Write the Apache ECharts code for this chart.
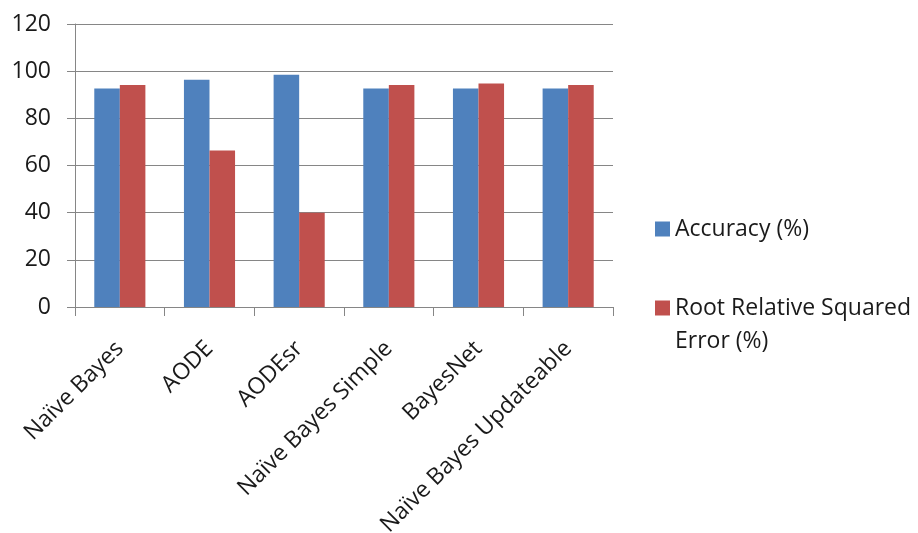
<!DOCTYPE html>
<html><head><meta charset="utf-8">
<script src="https://cdn.jsdelivr.net/npm/echarts@6/dist/echarts.min.js"></script>
<style>html,body{margin:0;padding:0;background:#fff}#c{width:918px;height:533px}</style>
</head><body><div id="c"></div>
<script>
const categories = ['Naïve Bayes','AODE','AODEsr','Naïve Bayes Simple','BayesNet','Naïve Bayes Updateable'];
const accuracy = [92.6, 96.4, 98.5, 92.6, 92.6, 92.6];
const rrse = [94.1, 66.4, 40.0, 94.1, 94.8, 94.1];
const seriesNames = ['Accuracy (%)', 'Root Relative Squared Error (%)'];
const yTicks = { min: 0, max: 120, interval: 20 };

const FONT = 'Open Sans';
const FS = 23;
const chart = echarts.init(document.getElementById('c'), null, {renderer:'canvas'});
chart.setOption({
  animation: false,
  textStyle: { fontFamily: FONT },
  grid: { left: 75, right: 305, top: 24, bottom: 226, containLabel: false, outerBoundsMode: 'none' },
  legend: [
    { data: [seriesNames[0]], orient: 'vertical', left: 655, top: 212.5, padding: 0,
      itemWidth: 15, itemHeight: 15, itemGap: 5, icon: 'rect',
      textStyle: { fontFamily: FONT, fontSize: FS, color: '#1a1a1a', lineHeight: 33 } },
    { data: [seriesNames[1]], orient: 'vertical', left: 655, top: 258.5, padding: 0,
      itemWidth: 15, itemHeight: 15, itemGap: 5, icon: 'rect',
      formatter: () => ' \nRoot Relative Squared\nError (%)',
      textStyle: { fontFamily: FONT, fontSize: FS, color: '#1a1a1a', lineHeight: 33 } }
  ],
  xAxis: {
    type: 'category', data: categories,
    axisLine: { lineStyle: { color: '#868686', width: 1 } },
    axisTick: { show: true, length: 9, alignWithLabel: false, lineStyle: { color: '#868686' } },
    axisLabel: { rotate: 45, fontFamily: FONT, fontSize: FS, color: '#1a1a1a', margin: 38, interval: 0 }
  },
  yAxis: {
    type: 'value', min: yTicks.min, max: yTicks.max, interval: yTicks.interval,
    axisLine: { show: true, lineStyle: { color: '#868686' } },
    axisTick: { show: true, length: 8, lineStyle: { color: '#868686' } },
    axisLabel: { fontFamily: FONT, fontSize: FS, color: '#1a1a1a', margin: 24 },
    splitLine: { lineStyle: { color: '#868686', width: 1 } }
  },
  series: [
    { name: seriesNames[0], type: 'bar', data: accuracy, barGap: '0%', barCategoryGap: '43%',
      itemStyle: { color: '#4F81BD' } },
    { name: seriesNames[1], type: 'bar', data: rrse, barGap: '0%', barCategoryGap: '43%',
      itemStyle: { color: '#C0504D' } }
  ]
});
</script></body></html>
